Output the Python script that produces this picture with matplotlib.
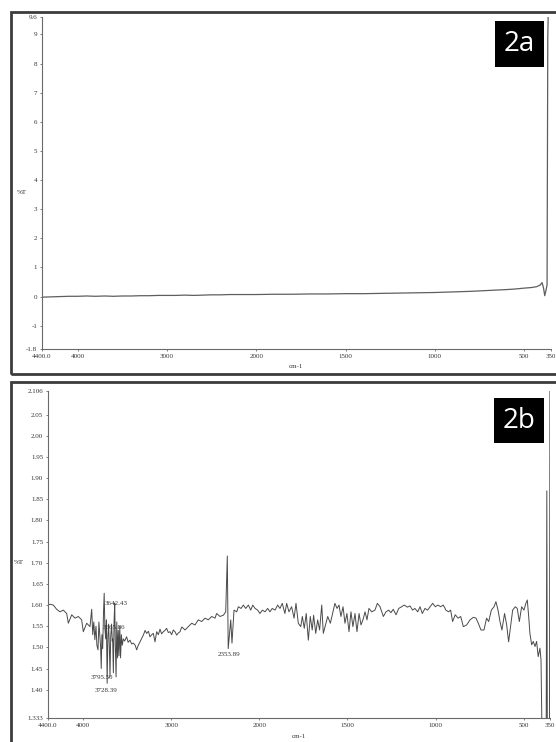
import numpy as np
import matplotlib
matplotlib.use("Agg")
import matplotlib.pyplot as plt
from matplotlib.patches import Rectangle

# ---------------- data ----------------
# Panel 2a: wavenumber (cm-1) and %T
wn_a = [4400, 4300, 4200, 4100, 4000, 3900, 3800, 3700, 3600, 3500, 3400, 3300,
        3200, 3100, 3000, 2900, 2800, 2700, 2600, 2500, 2400, 2300, 2200, 2100,
        2000, 1900, 1800, 1700, 1600, 1500, 1400, 1300, 1200, 1100, 1000, 900,
        800, 700, 600, 550, 500, 460, 430, 410, 400, 392, 385, 378, 372, 368, 365, 360]
t_a = [-0.02, -0.01, 0.00, 0.01, 0.01, 0.02, 0.01, 0.02, 0.01, 0.02, 0.02, 0.03,
       0.03, 0.04, 0.04, 0.04, 0.05, 0.04, 0.05, 0.06, 0.06, 0.07, 0.07, 0.07,
       0.07, 0.08, 0.08, 0.09, 0.09, 0.10, 0.10, 0.11, 0.12, 0.13, 0.14, 0.16,
       0.18, 0.21, 0.24, 0.26, 0.29, 0.31, 0.34, 0.40, 0.48, 0.30, 0.03, 0.22,
       0.40, 8.90, 9.90, 10.5]

# Panel 2b: wavenumber (cm-1) and %T
wn_b = [4400, 4377, 4339, 4302, 4264, 4226, 4188, 4169, 4131, 4093, 4056, 4018,
        3999, 3961, 3923,
        3904, 3892, 3880, 3868, 3855, 3845, 3832, 3822, 3812, 3803, 3795.5, 3788,
        3779, 3770, 3762, 3754, 3745, 3737, 3728.4, 3720, 3712, 3703, 3696, 3688,
        3678, 3670, 3665.9, 3658, 3650, 3642.4, 3635, 3627, 3619, 3610, 3602, 3594,
        3585, 3576, 3567, 3557, 3545, 3530,
        3507, 3490, 3469, 3450, 3431, 3410, 3393, 3375, 3355, 3335, 3317, 3298,
        3280, 3260, 3242, 3222, 3204, 3185, 3166, 3147, 3128, 3110, 3090, 3072,
        3053, 3034, 3015, 2996, 2977, 2958, 2939, 2920, 2901, 2882, 2863,
        2844, 2807, 2768, 2731, 2693, 2655, 2617, 2580, 2541, 2504, 2485, 2447,
        2409, 2382, 2364, 2353.9, 2325, 2311, 2288, 2257, 2239, 2208, 2182, 2155,
        2125, 2098, 2075, 2049, 2019, 1997, 1983, 1968, 1953, 1940, 1927, 1911,
        1896, 1883, 1870, 1855, 1845, 1832, 1817, 1803, 1792, 1779, 1765, 1756,
        1745, 1734, 1722, 1711, 1700, 1692, 1680, 1669, 1658, 1646, 1637, 1627,
        1612, 1597, 1584, 1571, 1559, 1548, 1537, 1525, 1514, 1503, 1491, 1480,
        1469, 1457, 1446, 1434, 1423, 1412, 1400, 1389, 1378, 1362, 1344,
        1330, 1315, 1296, 1281, 1266, 1253, 1240, 1224, 1209, 1192, 1177, 1160,
        1145, 1130, 1117, 1101, 1088, 1075, 1060, 1045, 1031, 1016, 1001, 986,
        971, 956, 941, 926, 914, 903, 888, 872, 857, 842, 823, 804, 785, 770,
        757, 742, 725, 710, 698, 683, 668, 657, 645, 634, 623, 608, 596, 585,
        574, 562, 547, 536, 524, 511, 498, 487, 479, 471, 464, 454, 445, 435,
        426, 417, 407, 401,
        394, 372, 368, 365, 353, 350]
t_b = [1.600, 1.602, 1.600, 1.590, 1.584, 1.588, 1.580, 1.557, 1.577, 1.569, 1.573, 1.565,
       1.537, 1.557, 1.549,
       1.590, 1.530, 1.560, 1.518, 1.550, 1.505, 1.494, 1.560, 1.528, 1.502, 1.450, 1.530,
       1.497, 1.580, 1.628, 1.545, 1.520, 1.565, 1.415, 1.525, 1.555, 1.500, 1.430, 1.525,
       1.555, 1.515, 1.520, 1.440, 1.560, 1.605, 1.500, 1.430, 1.560, 1.475, 1.540, 1.480,
       1.550, 1.475, 1.530, 1.505, 1.520, 1.515,
       1.525, 1.512, 1.517, 1.508, 1.510, 1.505, 1.494, 1.505, 1.513, 1.522, 1.529, 1.540,
       1.533, 1.538, 1.525, 1.530, 1.533, 1.513, 1.537, 1.530, 1.543, 1.532, 1.537, 1.540,
       1.545, 1.535, 1.537, 1.530, 1.541, 1.537, 1.529, 1.534, 1.537, 1.548, 1.545,
       1.541, 1.549, 1.557, 1.553, 1.565, 1.561, 1.569, 1.565, 1.573, 1.569, 1.580, 1.573,
       1.576, 1.584, 1.716, 1.497, 1.565, 1.510, 1.588, 1.584, 1.596, 1.592, 1.600, 1.592,
       1.600, 1.588, 1.600, 1.592, 1.588, 1.580, 1.588, 1.584, 1.592, 1.584, 1.592, 1.588,
       1.600, 1.592, 1.604, 1.580, 1.604, 1.584, 1.596, 1.569, 1.604, 1.557, 1.549, 1.573,
       1.545, 1.580, 1.517, 1.573, 1.541, 1.576, 1.533, 1.565, 1.541, 1.600, 1.533, 1.549,
       1.573, 1.557, 1.580, 1.604, 1.592, 1.600, 1.573, 1.596, 1.557, 1.580, 1.537, 1.584,
       1.549, 1.580, 1.537, 1.580, 1.553, 1.565, 1.584, 1.565, 1.592, 1.584, 1.588,
       1.604, 1.596, 1.573, 1.584, 1.588, 1.582, 1.590, 1.577, 1.592, 1.596, 1.600, 1.595,
       1.598, 1.588, 1.592, 1.584, 1.596, 1.580, 1.592, 1.588, 1.596, 1.604, 1.596, 1.600,
       1.596, 1.600, 1.588, 1.584, 1.588, 1.561, 1.577, 1.569, 1.573, 1.549, 1.553, 1.565,
       1.571, 1.569, 1.557, 1.541, 1.541, 1.569, 1.561, 1.588, 1.596, 1.608, 1.588, 1.561,
       1.541, 1.580, 1.553, 1.513, 1.549, 1.588, 1.596, 1.592, 1.561, 1.596, 1.588, 1.604,
       1.612, 1.573, 1.533, 1.506, 1.514, 1.502, 1.514, 1.478, 1.498, 1.470,
       1.250, 1.250, 1.870, 1.250, 1.250, 2.300]

xticks = [4400, 4000, 3000, 2000, 1500, 1000, 500, 350]
xtick_labels = ["4400.0", "4000", "3000", "2000", "1500", "1000", "500", "350"]
yticks_a = [-1.8, -1, 0, 1, 2, 3, 4, 5, 6, 7, 8, 9, 9.6]
ytick_labels_a = ["-1.8", "-1", "0", "1", "2", "3", "4", "5", "6", "7", "8", "9", "9.6"]
yticks_b = [1.333, 1.40, 1.45, 1.50, 1.55, 1.60, 1.65, 1.70, 1.75, 1.80, 1.85,
            1.90, 1.95, 2.00, 2.05, 2.106]
ytick_labels_b = ["1.333", "1.40", "1.45", "1.50", "1.55", "1.60", "1.65", "1.70",
                  "1.75", "1.80", "1.85", "1.90", "1.95", "2.00", "2.05", "2.106"]
peak_labels = [("3642.43", 3628, 1.603), ("3665.86", 3650, 1.546),
               ("3795.50", 3793, 1.428), ("3728.39", 3736, 1.397),
               ("2353.89", 2350, 1.482)]

# ---------------- figure ----------------
W, H = 556, 742
fig = plt.figure(figsize=(W / 100, H / 100), dpi=100)
fig.patch.set_facecolor("white")


def fwd(x):
    x = np.asarray(x, dtype=float)
    return np.where(x <= 2000, x, 2000 + (x - 2000) / 2.0)


def inv(u):
    u = np.asarray(u, dtype=float)
    return np.where(u <= 2000, u, 2000 + (u - 2000) * 2.0)


def px_axes(x0, y0, x1, y1):
    return fig.add_axes([x0 / W, 1 - y1 / H, (x1 - x0) / W, (y1 - y0) / H])


tick_font = dict(family="Liberation Serif", size=5, color="#333333")
spine_col = "#6a6a6a"


def style(ax, yt, ytl, ylim):
    ax.set_xscale("function", functions=(fwd, inv))
    ax.set_xlim(4400, 350)
    ax.set_ylim(*ylim)
    ax.set_xticks(xticks)
    ax.set_xticklabels(xtick_labels, fontdict=tick_font)
    ax.set_yticks(yt)
    ax.set_yticklabels(ytl, fontdict=tick_font)
    ax.minorticks_off()
    for s in ("top", "right"):
        ax.spines[s].set_visible(False)
    for s in ("left", "bottom"):
        ax.spines[s].set_color(spine_col)
        ax.spines[s].set_linewidth(0.8)
    ax.tick_params(length=1.5, width=0.6, color=spine_col, pad=2)
    ax.patch.set_alpha(0)


# Panel 2a
ax1 = px_axes(42, 17, 551, 349)
ax1.plot(wn_a, t_a, color="#5e5e5e", lw=0.9)
style(ax1, yticks_a, ytick_labels_a, (-1.8, 9.6))
fig.text(22 / W, 1 - 193 / H, "%T", ha="center", va="center", **tick_font)
fig.text(296 / W, 1 - 367 / H, "cm-1", ha="center", va="center", **tick_font)

# Panel 2b
ax2 = px_axes(48, 391, 550, 718)
ax2.plot(wn_b, t_b, color="#4a4a4a", lw=0.7)
style(ax2, yticks_b, ytick_labels_b, (1.333, 2.106))
for txt, x, y in peak_labels:
    ax2.text(x, y, txt, ha="center", va="center", **tick_font)
fig.text(19 / W, 1 - 563 / H, "%T", ha="center", va="center", **tick_font)
fig.text(299 / W, 1 - 737 / H, "cm-1", ha="center", va="center", **tick_font)

# Frames around panels
frame_col = "#3c3c3c"
fig.add_artist(Rectangle((10.5 / W, 1 - 374 / H), 1.2, (374 - 11.5) / H,
                         transform=fig.transFigure, fill=False,
                         edgecolor=frame_col, lw=2.0, clip_on=False))
fig.add_artist(Rectangle((10.5 / W, -0.1), 1.2, 0.1 + 1 - 382 / H,
                         transform=fig.transFigure, fill=False,
                         edgecolor=frame_col, lw=2.0, clip_on=False))

# Panel badges
for lab, (bx0, by0, bx1, by1) in (("2a", (495, 21, 544, 67)), ("2b", (494, 398, 544, 443))):
    fig.add_artist(Rectangle((bx0 / W, 1 - by1 / H), (bx1 - bx0) / W, (by1 - by0) / H,
                             transform=fig.transFigure, facecolor="black",
                             edgecolor="none"))
    fig.text((bx0 + bx1) / 2 / W, 1 - (by0 + by1) / 2 / H, lab, ha="center",
             va="center", color="white", family="Open Sans", size=20)

fig.savefig("out.png", dpi=100)
